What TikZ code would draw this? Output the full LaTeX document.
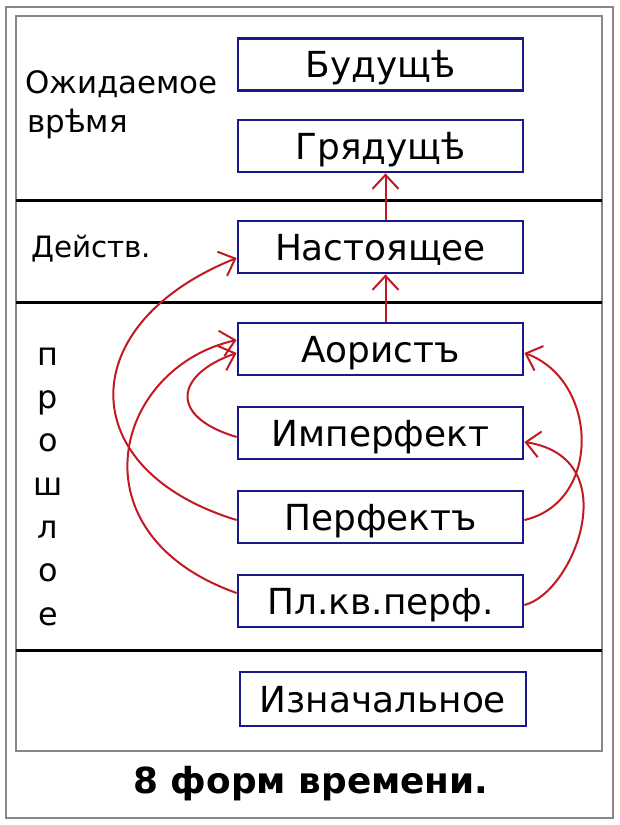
\documentclass[tikz,border=0pt]{standalone}
\usepackage{fontspec}
\setmainfont{DejaVu Sans}
\usetikzlibrary{arrows.meta,calc}
\definecolor{frameg}{RGB}{135,135,135}
\definecolor{boxblue}{RGB}{25,25,140}
\definecolor{arrred}{RGB}{195,25,35}
\begin{document}
\begin{tikzpicture}[x=1bp,y=-1bp,
  tbox/.style={draw=boxblue,line width=2.8bp,minimum width=285bp,minimum height=52bp,
    inner sep=0pt,text height=26.3bp,text depth=0pt,font=\fontsize{36}{42}\selectfont},
  lbl/.style={anchor=base west,inner sep=0pt,font=\fontsize{31}{36}\selectfont},
  vl/.style={anchor=base,inner sep=0pt,font=\fontsize{32}{36}\selectfont},
  arr/.style={draw=arrred,line width=2bp,-{Straight Barb[length=14bp,width=26bp,line width=2bp]}},
  divider/.style={draw=black,line width=3bp}]
\useasboundingbox (0,0) rectangle (620,825);
\fill[white] (0,0) rectangle (620,825);
% frames
\draw[frameg,line width=2.4bp] (6,7) rectangle (613,818);
\draw[frameg,line width=2.4bp] (16,16) rectangle (602,751);
\coordinate (dl1) at (16,200); \coordinate (dr1) at (602,200);
\coordinate (dl2) at (16,302); \coordinate (dr2) at (602,302);
\coordinate (dl3) at (16,650); \coordinate (dr3) at (602,650);
\draw[divider] (dl1) -- (dr1);
\draw[divider] (dl2) -- (dr2);
\draw[divider] (dl3) -- (dr3);
% boxes
\node[tbox] (bud)  at (380.5,64.5) {Будущѣ};
\node[tbox] (gry)  at (380.5,146)  {Грядущѣ};
\node[tbox] (nast) at (380.5,247)  {Настоящее};
\node[tbox] (aor)  at (380.5,349)  {Аористъ};
\node[tbox] (imp)  at (380.5,433)  {Имперфект};
\node[tbox] (perf) at (380.5,517)  {Перфектъ};
\node[tbox] (plk)  at (380.5,601)  {Пл.кв.перф.};
\node[tbox,minimum width=286bp,minimum height=54bp] (izn) at (383,699) {Изначальное};
% left labels
\node[lbl] (ozh) at (25,93)  {Ожидаемое};
\node[lbl] (vre) at (27,132) {врѣмя};
\node[lbl,font=\fontsize{29.5}{34}\selectfont] (dei) at (31,257) {Действ.};
\node[vl] (p1) at (48,365)   {п};
\node[vl] (p2) at (48,408)   {р};
\node[vl] (p3) at (48,451.6) {о};
\node[vl] (p4) at (48,495)   {ш};
\node[vl] (p5) at (48,538)   {л};
\node[vl] (p6) at (48,581.5) {о};
\node[vl] (p7) at (48,625)   {е};
% title
\node[anchor=base,inner sep=0pt,font=\fontsize{36}{42}\selectfont\bfseries] (title) at (311,793) {8 форм времени.};
% arrows
\draw[arr] ([xshift=5bp]nast.north) -- ([xshift=5bp]gry.south);
\draw[arr] ([xshift=5bp]aor.north) -- ([xshift=5bp]nast.south);
\draw[arr] ($(perf.west)+(0,3)$) .. controls +(-164,-50) and +(-164,66) .. ($(nast.west)+(0,11)$);
\draw[arr] ($(plk.west)+(0,-8)$) .. controls +(-166,-59) and +(-123,28) .. ($(aor.west)+(0,-9)$);
\draw[arr] ($(imp.west)+(0,4)$) .. controls +(-70,-21) and +(-60,21) .. ($(aor.west)+(0,4)$);
\draw[arr] ($(perf.east)+(0,3)$) .. controls +(78,-18) and +(74,27) .. ($(aor.east)+(0,4)$);
\draw[arr] ($(plk.east)+(0,4)$) .. controls +(49,-12) and +(103,16) .. ($(imp.east)+(0,9)$);
\end{tikzpicture}
\end{document}
